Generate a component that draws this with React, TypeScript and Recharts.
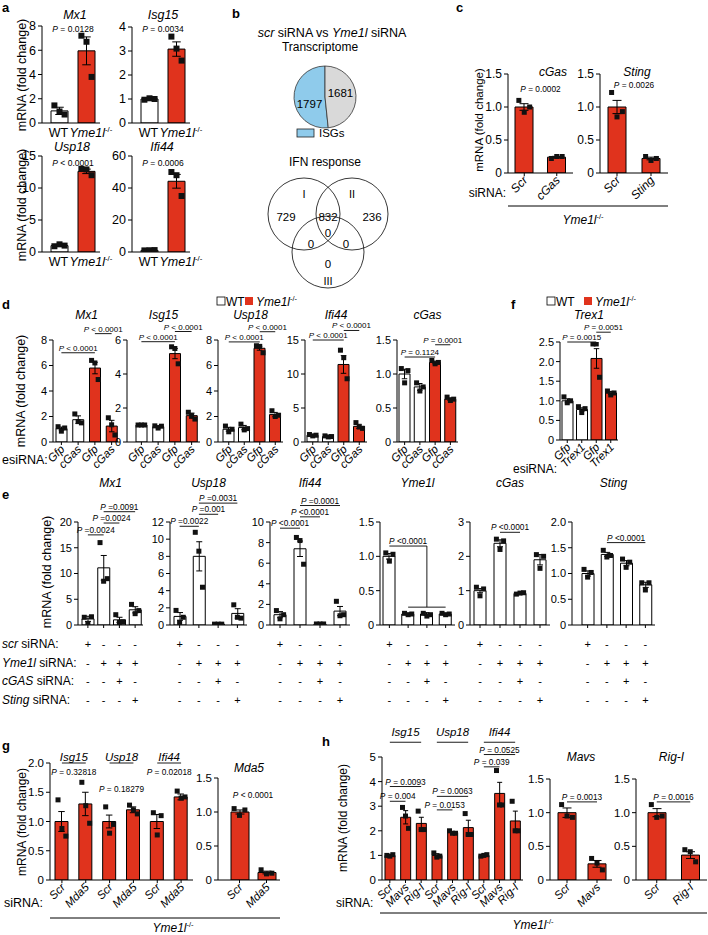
import React from 'react';
import { ComposedChart, Bar, Scatter, XAxis, YAxis, ErrorBar, ReferenceLine, Cell, PieChart, Pie } from 'recharts';

const FONT = '"Liberation Sans", Arial, Helvetica, sans-serif';
const RED = '#e0331d';
const WHT = '#ffffff';

type Br = { i: number; j: number; y: number; y2?: number; t?: string; line?: boolean; title?: boolean; dy?: number };

// ---------------- panel a ----------------
const aLabels = ['WT', 'Yme1l'];
const aFills = [WHT, RED];
const aMx1Mean = [1.0, 5.95];
const aMx1Sem = [0.3, 1.15];
const aMx1Reps = [[1.45, 0.95, 0.7], [7.2, 6.7, 3.8]];
const aIsg15Mean = [1.0, 3.08];
const aIsg15Sem = [0.02, 0.3];
const aIsg15Reps = [[0.97, 1.03, 1.0], [3.6, 3.1, 2.6]];
const aUsp18Mean = [1.0, 12.6];
const aUsp18Sem = [0.12, 0.35];
const aUsp18Reps = [[0.9, 1.2, 1.0], [13.0, 12.9, 12.0]];
const aIfi44Mean = [1.0, 44.2];
const aIfi44Sem = [0.15, 4.3];
const aIfi44Reps = [[1.0, 1.1, 1.2], [50, 48, 35]];
const aGenes = ['Mx1', 'Isg15', 'Usp18', 'Ifi44'];
const aMx1P: Br[] = [{ i: 0, j: 1, y: 7.35, t: 'P = 0.0128' }];
const aIsg15P: Br[] = [{ i: 0, j: 1, y: 3.7, t: 'P = 0.0034' }];
const aUsp18P: Br[] = [{ i: 0, j: 1, y: 13.1, t: 'P < 0.0001' }];
const aIfi44P: Br[] = [{ i: 0, j: 1, y: 52.5, t: 'P = 0.0006' }];

// ---------------- panel b ----------------
const pieData = [{ name: 'ISGs', value: 1797 }, { name: 'other', value: 1681 }];
const pieColors = ['#8fcbeb', '#d9d9d9'];
const vennSets = ['I', 'II', 'III'];
const vennCounts = ['729', '832', '236', '0', '0', '0', '0'];

// ---------------- panel c ----------------
const cGasLabels = ['Scr', 'cGas'];
const cStingLabels = ['Scr', 'Sting'];
const cFills = [RED, RED];
const cGasMean = [1.0, 0.24];
const cGasSem = [0.05, 0.012];
const cGasReps = [[1.1, 0.92, 1.0], [0.22, 0.25, 0.25]];
const cStingMean = [1.0, 0.22];
const cStingSem = [0.1, 0.02];
const cStingReps = [[1.22, 0.85, 0.93], [0.25, 0.19, 0.22]];
const cGasP: Br[] = [{ i: 0, j: 1, y: 1.2, t: 'P = 0.0002' }];
const cStingP: Br[] = [{ i: 0, j: 1, y: 1.26, t: 'P = 0.0026' }];

// ---------------- panel d ----------------
const dLabels = ['Gfp', 'cGas', 'Gfp', 'cGas'];
const dFills = [WHT, WHT, RED, RED];
const dGenes = ['Mx1', 'Isg15', 'Usp18', 'Ifi44', 'cGas'];
const dMx1Mean = [1.05, 1.75, 5.8, 1.25];
const dMx1Sem = [0.12, 0.3, 0.45, 0.45];
const dMx1Reps = [[1.2, 0.85, 1.1], [2.2, 1.6, 1.5], [6.4, 6.2, 4.9], [1.9, 1.35, 0.55]];
const dIsg15Mean = [1.0, 0.9, 5.2, 1.55];
const dIsg15Sem = [0.02, 0.06, 0.3, 0.15];
const dIsg15Reps = [[1.0, 1.0, 1.0], [0.95, 0.82, 0.93], [5.6, 5.5, 4.6], [1.75, 1.55, 1.35]];
const dUsp18Mean = [1.0, 1.13, 7.35, 2.15];
const dUsp18Sem = [0.15, 0.17, 0.15, 0.17];
const dUsp18Reps = [[1.25, 0.8, 1.0], [1.4, 0.95, 1.05], [7.55, 7.5, 7.0], [2.45, 2.0, 2.1]];
const dIfi44Mean = [1.0, 0.8, 11.4, 2.3];
const dIfi44Sem = [0.1, 0.08, 1.3, 0.3];
const dIfi44Reps = [[1.1, 0.9, 1.0], [0.9, 0.75, 0.8], [13.5, 12.4, 9.3], [2.85, 2.2, 2.0]];
const dCgasMean = [1.0, 0.81, 1.17, 0.63];
const dCgasSem = [0.07, 0.05, 0.02, 0.02];
const dCgasReps = [[1.08, 0.87, 1.05], [0.87, 0.75, 0.81], [1.2, 1.15, 1.17], [0.66, 0.61, 0.63]];
const dMx1P: Br[] = [{ i: 0, j: 2, y: 7.0, t: 'P < 0.0001', line: true }, { i: 2, j: 3, y: 8.5, t: 'P < 0.0001', line: true }];
const dIsg15P: Br[] = [{ i: 0, j: 2, y: 5.9, t: 'P < 0.0001', line: true }, { i: 2, j: 3, y: 6.5, t: 'P < 0.0001', line: true }];
const dUsp18P: Br[] = [{ i: 0, j: 2, y: 7.85, t: 'P < 0.0001', line: true }, { i: 2, j: 3, y: 8.65, t: 'P < 0.0001', line: true }];
const dIfi44P: Br[] = [{ i: 0, j: 2, y: 15.0, t: 'P < 0.0001', line: true }, { i: 2, j: 3, y: 16.4, t: 'P < 0.0001', line: true }];
const dCgasP: Br[] = [{ i: 0, j: 2, y: 1.25, t: 'P = 0.1124', line: true }, { i: 2, j: 3, y: 1.43, t: 'P = 0.0001', line: true }];

// ---------------- panel f ----------------
const fLabels = ['Gfp', 'Trex1', 'Gfp', 'Trex1'];
const fFills = [WHT, WHT, RED, RED];
const fMean = [1.0, 0.78, 2.08, 1.2];
const fSem = [0.05, 0.04, 0.25, 0.04];
const fReps = [[1.1, 0.95, 1.0], [0.85, 0.7, 0.8], [2.45, 2.45, 1.6], [1.25, 1.15, 1.2]];
const fP: Br[] = [{ i: 0, j: 2, y: 2.5, t: 'P = 0.0015', line: true }, { i: 2, j: 3, y: 2.75, t: 'P = 0.0051', line: true }];

// ---------------- panel e ----------------
const eLabels = ['1', '2', '3', '4'];
const eFills = [WHT, WHT, WHT, WHT];
const eGenes = ['Mx1', 'Usp18', 'Ifi44', 'Yme1l', 'cGas', 'Sting'];
const eSignRows = [['+', '-', '-', '-'], ['-', '+', '+', '+'], ['-', '-', '+', '-'], ['-', '-', '-', '+']];
const eRowLabels = [['scr', ' siRNA:'], ['Yme1l', ' siRNA:'], ['cGAS', ' siRNA:'], ['Sting', ' siRNA:']];
const eMx1Mean = [1.2, 11.1, 1.0, 2.95];
const eMx1Sem = [0.5, 2.4, 0.5, 0.6];
const eMx1Reps = [[1.5, 0.3, 1.6], [16, 8.5, 9], [2.0, 0.5, 0.6], [4.0, 2.2, 2.8]];
const eUsp18Mean = [1.0, 8.0, 0.1, 1.35];
const eUsp18Sem = [0.45, 1.7, 0.02, 0.55];
const eUsp18Reps = [[1.7, 0.3, 0.9], [10.8, 8.6, 4.4], [0.1, 0.1, 0.1], [2.35, 0.9, 0.8]];
const eIfi44Mean = [1.0, 7.4, 0.1, 1.35];
const eIfi44Sem = [0.3, 0.75, 0.02, 0.45];
const eIfi44Reps = [[1.4, 0.6, 1.0], [8.5, 8.2, 5.9], [0.1, 0.1, 0.1], [2.3, 0.9, 1.0]];
const eYmeMean = [1.0, 0.16, 0.16, 0.16];
const eYmeSem = [0.04, 0.01, 0.02, 0.01];
const eYmeReps = [[1.05, 0.93, 1.03], [0.17, 0.15, 0.16], [0.17, 0.13, 0.15], [0.17, 0.15, 0.16]];
const eCgasMean = [1.0, 2.38, 0.92, 1.9];
const eCgasSem = [0.06, 0.1, 0.02, 0.15];
const eCgasReps = [[1.1, 0.85, 1.05], [2.5, 2.2, 2.45], [0.9, 0.93, 0.94], [2.05, 1.65, 2.0]];
const eStingMean = [1.0, 1.37, 1.2, 0.78];
const eStingSem = [0.05, 0.04, 0.05, 0.05];
const eStingReps = [[1.08, 0.93, 1.02], [1.45, 1.32, 1.35], [1.28, 1.12, 1.22], [0.82, 0.68, 0.82]];
const eMx1P: Br[] = [{ i: 0, j: 1, y: 17.5, t: 'P =0.0024', line: true }, { i: 1, j: 2, y: 19.8, t: 'P =0.0024', line: true }, { i: 1, j: 3, y: 22.0, t: 'P =0.0091', line: true }];
const eUsp18P: Br[] = [{ i: 0, j: 1, y: 11.5, t: 'P =0.0022', line: true }, { i: 1, j: 2, y: 12.9, t: 'P =0.001', line: true }, { i: 1, j: 3, y: 14.2, t: 'P =0.0031', line: true }];
const eIfi44P: Br[] = [{ i: 0, j: 1, y: 9.4, t: 'P <0.0001', line: true }, { i: 1, j: 2, y: 10.5, t: 'P <0.0001', line: true }, { i: 1, j: 3, y: 11.6, t: 'P =0.0001', line: true }];
const eYmeP: Br[] = [{ i: 0, j: 2, y: 1.15, t: 'P <0.0001', line: true }, { i: 2, j: 2, y: 1.15, y2: 0.26, line: true }, { i: 1, j: 3, y: 0.26, line: true }];
const eCgasP: Br[] = [{ i: 1, j: 2, y: 2.7, t: 'P <0.0001', line: true }];
const eStingP: Br[] = [{ i: 1, j: 3, y: 1.6, t: 'P <0.0001', line: true }];

// ---------------- panel g ----------------
const gLabels = ['Scr', 'Mda5', 'Scr', 'Mda5', 'Scr', 'Mda5'];
const gFills = [RED, RED, RED, RED, RED, RED];
const gMean = [1.0, 1.3, 1.0, 1.2, 1.0, 1.42];
const gSem = [0.17, 0.2, 0.11, 0.05, 0.12, 0.05];
const gReps = [[1.37, 0.88, 0.75], [1.67, 1.27, 0.97], [1.25, 0.8, 0.95], [1.28, 1.2, 1.13], [1.15, 0.77, 1.1], [1.52, 1.4, 1.42]];
const gP: Br[] = [
  { i: 0, j: 1, y: 2.0, t: 'Isg15', line: true, title: true },
  { i: 2, j: 3, y: 2.0, t: 'Usp18', line: true, title: true },
  { i: 4, j: 5, y: 2.0, t: 'Ifi44', line: true, title: true },
  { i: 0, j: 1, y: 1.76, t: 'P = 0.32818' },
  { i: 2, j: 3, y: 1.47, t: 'P = 0.18279' },
  { i: 4, j: 5, y: 1.76, t: 'P = 0.02018' },
];
const gMdaLabels = ['Scr', 'Mda5'];
const gMdaMean = [1.0, 0.11];
const gMdaSem = [0.03, 0.02];
const gMdaReps = [[1.05, 0.95, 1.03], [0.15, 0.09, 0.1]];
const gMdaP: Br[] = [{ i: 0, j: 1, y: 1.18, t: 'P < 0.0001' }];

// ---------------- panel h ----------------
const hLabels = ['Scr', 'Mavs', 'Rig-I', 'Scr', 'Mavs', 'Rig-I', 'Scr', 'Mavs', 'Rig-I'];
const hFills = [RED, RED, RED, RED, RED, RED, RED, RED, RED];
const hMean = [1.0, 2.55, 2.3, 1.0, 1.93, 2.13, 1.0, 3.52, 2.4];
const hSem = [0.03, 0.27, 0.25, 0.07, 0.04, 0.3, 0.04, 0.45, 0.4];
const hReps = [[1.0, 0.97, 1.03], [2.95, 2.6, 2.1], [2.8, 2.05, 2.05], [1.1, 0.93, 0.97], [2.0, 1.9, 1.9], [2.7, 1.85, 1.85], [0.97, 1.0, 1.03], [4.45, 3.05, 3.05], [3.2, 2.0, 2.0]];
const hP: Br[] = [
  { i: 0, j: 2, y: 5.6, t: 'Isg15', line: true, title: true, dy: -4 },
  { i: 3, j: 5, y: 5.6, t: 'Usp18', line: true, title: true, dy: -4 },
  { i: 6, j: 8, y: 5.6, t: 'Ifi44', line: true, title: true, dy: -4 },
  { i: 0, j: 2, y: 3.8, t: 'P = 0.0093', line: true },
  { i: 0, j: 1, y: 3.2, t: 'P = 0.004', line: true },
  { i: 3, j: 5, y: 3.4, t: 'P = 0.0063', line: true },
  { i: 3, j: 4, y: 2.85, t: 'P = 0.0153', line: true },
  { i: 6, j: 8, y: 5.1, t: 'P = 0.0525', line: true },
  { i: 6, j: 7, y: 4.6, t: 'P = 0.039', line: true },
];
const hMavsLabels = ['Scr', 'Mavs'];
const hMavsMean = [1.0, 0.24];
const hMavsSem = [0.07, 0.05];
const hMavsReps = [[1.12, 0.95, 0.93], [0.32, 0.25, 0.15]];
const hMavsP: Br[] = [{ i: 0, j: 1, y: 1.16, t: 'P = 0.0013', line: true }];
const hRigLabels = ['Scr', 'Rig-I'];
const hRigMean = [1.0, 0.37];
const hRigSem = [0.06, 0.05];
const hRigReps = [[1.12, 0.93, 0.95], [0.45, 0.42, 0.27]];
const hRigP: Br[] = [{ i: 0, j: 1, y: 1.16, t: 'P = 0.0016', line: true }];

// ---------------- layout (page pixels) ----------------
const G = {
  aMx1: { x: 42, top: 26, bottom: 123, right: 100, pl: 4, bs: 17 },
  aIsg15: { x: 132, top: 27, bottom: 123, right: 190, pl: 4, bs: 17 },
  aUsp18: { x: 42, top: 156, bottom: 252, right: 100, pl: 4, bs: 17 },
  aIfi44: { x: 132, top: 156, bottom: 252, right: 190, pl: 4, bs: 17 },
  cGas: { x: 508, top: 74, bottom: 173, right: 573, pl: 0, bs: 18 },
  cSting: { x: 600, top: 74, bottom: 173, right: 668, pl: 0, bs: 18 },
  dMx1: { x: 53, top: 340, bottom: 442, right: 120, pl: 0, bs: 11 },
  dIsg15: { x: 127, top: 340, bottom: 442, right: 200, pl: 6, bs: 11 },
  dUsp18: { x: 218, top: 340, bottom: 442, right: 283, pl: 3, bs: 11 },
  dIfi44: { x: 305, top: 340, bottom: 442, right: 367, pl: 0, bs: 11 },
  dCgas: { x: 397, top: 340, bottom: 442, right: 458, pl: 0, bs: 11 },
  f: { x: 560, top: 342, bottom: 440, right: 618, pl: 0, bs: 11 },
  eMx1: { x: 78, top: 522, bottom: 625, right: 143, pl: 2, bs: 12 },
  eUsp18: { x: 170, top: 522, bottom: 625, right: 247, pl: 0, bs: 12 },
  eIfi44: { x: 270, top: 522, bottom: 625, right: 350, pl: 0, bs: 12 },
  eYme: { x: 380, top: 522, bottom: 625, right: 455, pl: 0, bs: 12 },
  eCgas: { x: 470, top: 522, bottom: 625, right: 550, pl: 0, bs: 12 },
  eSting: { x: 572, top: 522, bottom: 625, right: 655, pl: 6, bs: 12 },
  gLeft: { x: 50, top: 763, bottom: 880, right: 193, pl: 0, bs: 13 },
  gMda: { x: 218, top: 778, bottom: 880, right: 280, pl: 8, bs: 18 },
  hLeft: { x: 382, top: 757, bottom: 880, right: 523, pl: 0, bs: 10 },
  hMavs: { x: 550, top: 779, bottom: 880, right: 612, pl: 2, bs: 18 },
  hRig: { x: 636, top: 779, bottom: 880, right: 707, pl: 4, bs: 18 },
};

// ---------------- helpers ----------------
function makeTick(kind: string, labels: string[], fs: number) {
  return function TickR(tp: any) {
    const x = Number(tp.x);
    const y = Number(tp.y);
    const idx = Number(String(tp.payload?.value ?? 'c0').slice(1));
    const lab = labels[idx] ?? '';
    if (kind === 'rot') {
      const ax = x + 4;
      const ay = y + 3;
      return (
        <text x={ax} y={ay} textAnchor="end" fontSize={fs} fontStyle="italic" fontFamily={FONT} fill="#000" transform={`rotate(-45 ${ax} ${ay})`}>
          {lab}
        </text>
      );
    }
    if (kind === 'flat') {
      if (lab === 'WT') {
        return <text x={x - 1} y={y + 9} textAnchor="middle" fontSize={fs} fontFamily={FONT} fill="#000">WT</text>;
      }
      return (
        <text x={x - 17} y={y + 9} textAnchor="start" fontSize={fs} fontFamily={FONT} fill="#000">
          <tspan fontStyle="italic">{lab}</tspan>
          <tspan fontSize={fs * 0.62} dy={-fs * 0.42}>-/-</tspan>
        </text>
      );
    }
    return (
      <g>
        {eSignRows.map((row, r) => (
          <text key={r} x={x} y={y + 18 + r * 18.7} textAnchor="middle" fontSize={fs} fontFamily={FONT} fill="#000">{row[idx]}</text>
        ))}
      </g>
    );
  };
}

const sq = (off: number, ds: number) => (sp: any) => {
  const cx = Number(sp.cx);
  const cy = Number(sp.cy);
  if (!isFinite(cx) || !isFinite(cy)) return <g />;
  return <rect x={cx + off - ds / 2} y={cy - ds / 2} width={ds} height={ds} fill="#111" />;
};

const brLabel = (b: Br, fs: number) => (lp: any) => {
  const vb = lp.viewBox ?? {};
  const cx = (vb.x ?? 0) + (vb.width ?? 0) / 2;
  const y = (vb.y ?? 0) - 2 + (b.dy ?? 0);
  const t = b.t ?? '';
  if (b.title) {
    return <text x={cx} y={y} textAnchor="middle" fontSize={fs} fontStyle="italic" fontFamily={FONT} fill="#000">{t}</text>;
  }
  return (
    <text x={cx} y={y} textAnchor="middle" fontSize={fs} fontFamily={FONT} fill="#000">
      <tspan fontStyle="italic">{t.slice(0, 1)}</tspan>
      {t.slice(1)}
    </text>
  );
};

function Panel(p: any) {
  const g = p.g;
  const yw = 36;
  const mt = 48;
  const mr = 18;
  const xh = p.xh ?? 52;
  const w = yw + (g.right - g.x) + mr;
  const h = mt + (g.bottom - g.top) + xh;
  const data = p.labels.map((_: string, i: number) => ({
    k: 'c' + i,
    v: p.mean[i],
    e: p.sem[i],
    r0: p.reps[i][0],
    r1: p.reps[i][1],
    r2: p.reps[i][2],
  }));
  const ds = p.ds ?? 5;
  const spread = [-0.3, 0, 0.3];
  const fmt = (v: number) => (v === 0 ? '0' : v.toFixed(p.dec));
  return (
    <div style={{ position: 'absolute', left: g.x - yw, top: g.top - mt, width: w, height: h }}>
      <ComposedChart width={w} height={h} data={data} margin={{ top: mt, right: mr, bottom: 0, left: 0 }}>
        <XAxis
          dataKey="k"
          type="category"
          interval={0}
          height={xh}
          axisLine={{ stroke: '#000', strokeWidth: 1 }}
          tickLine={p.noXTick ? false : { stroke: '#000', strokeWidth: 1 }}
          tickSize={3}
          padding={{ left: g.pl ?? 0, right: g.pr ?? 0 }}
          tick={makeTick(p.tick, p.labels, p.tfs)}
        />
        <YAxis
          type="number"
          domain={[0, p.yMax]}
          ticks={p.ticks}
          interval={0}
          allowDataOverflow
          width={yw}
          axisLine={{ stroke: '#000', strokeWidth: 1 }}
          tickLine={{ stroke: '#000', strokeWidth: 1 }}
          tickSize={4}
          tick={{ fill: '#000', fontSize: p.fs, fontFamily: FONT }}
          tickFormatter={fmt}
        />
        <Bar dataKey="v" barSize={g.bs} isAnimationActive={false} stroke="#000" strokeWidth={1}>
          {data.map((_: any, i: number) => <Cell key={i} fill={p.fills[i]} />)}
          <ErrorBar dataKey="e" width={Math.max(2, g.bs * 0.25)} stroke="#000" strokeWidth={1} />
        </Bar>
        {spread.map((s, j) => (
          <Scatter key={j} dataKey={'r' + j} isAnimationActive={false} shape={sq(s * g.bs, ds)} />
        ))}
        {(p.br ?? []).map((b: Br, n: number) => (
          <ReferenceLine
            key={n}
            ifOverflow="visible"
            segment={[{ x: 'c' + b.i, y: b.y }, { x: 'c' + b.j, y: b.y2 ?? b.y }]}
            stroke={b.line ? '#000' : 'none'}
            strokeWidth={0.9}
            label={b.t ? brLabel(b, b.title ? p.ttfs ?? 11.5 : p.pfs) : undefined}
          />
        ))}
      </ComposedChart>
    </div>
  );
}

const T = (p: any) => (
  <text
    x={p.x}
    y={p.y}
    fontSize={p.s ?? 11.5}
    fontStyle={p.it ? 'italic' : 'normal'}
    fontWeight={p.b ? 'bold' : 'normal'}
    textAnchor={p.a ?? 'start'}
    fontFamily={FONT}
    fill="#000"
  >
    {p.children}
  </text>
);

const Yme = (p: any) => (
  <text x={p.x} y={p.y} fontSize={p.s} textAnchor={p.a ?? 'middle'} fontFamily={FONT} fill="#000">
    <tspan fontStyle="italic">Yme1l</tspan>
    <tspan fontSize={p.s * 0.62} dy={-p.s * 0.42}>-/-</tspan>
  </text>
);

const YLab = (p: any) => (
  <text
    x={p.x}
    y={p.y}
    fontSize={p.s}
    textAnchor="middle"
    dominantBaseline="central"
    fontFamily={FONT}
    fill="#000"
    transform={`rotate(-90 ${p.x} ${p.y})`}
  >
    mRNA (fold change)
  </text>
);

const pieLabel = (lp: any) => {
  const RAD = Math.PI / 180;
  const r = lp.outerRadius * 0.5;
  const dyArr = [6, -3];
  const x = lp.cx + r * Math.cos(-lp.midAngle * RAD);
  const y = lp.cy + r * Math.sin(-lp.midAngle * RAD) + dyArr[lp.index];
  return (
    <text x={x} y={y} textAnchor="middle" dominantBaseline="central" fontSize={11.5} fontFamily={FONT} fill="#000">
      {lp.value}
    </text>
  );
};

const center = (g: any) => (g.x + g.right) / 2;

export default function App() {
  const dP = { dec: 0, pfs: 8, fs: 11, tfs: 11.5, ttfs: 12 };
  const eP = { pfs: 8.3, fs: 11, tfs: 11, tick: 'signs', xh: 90 };
  const ghP = { pfs: 8.3, fs: 11.5, tfs: 11.5, ttfs: 11.5, tick: 'rot' };
  return (
    <div style={{ position: 'absolute', left: 0, top: 0, width: 708, height: 935, background: '#fff', fontFamily: FONT, overflow: 'hidden' }}>
      {/* a */}
      <Panel g={G.aMx1} labels={aLabels} fills={aFills} mean={aMx1Mean} sem={aMx1Sem} reps={aMx1Reps} yMax={8} ticks={[0, 2, 4, 6, 8]} dec={0} fs={12.5} tfs={12.5} pfs={8.5} tick="flat" noXTick ds={6} br={aMx1P} />
      <Panel g={G.aIsg15} labels={aLabels} fills={aFills} mean={aIsg15Mean} sem={aIsg15Sem} reps={aIsg15Reps} yMax={4} ticks={[0, 1, 2, 3, 4]} dec={0} fs={12.5} tfs={12.5} pfs={8.5} tick="flat" noXTick ds={6} br={aIsg15P} />
      <Panel g={G.aUsp18} labels={aLabels} fills={aFills} mean={aUsp18Mean} sem={aUsp18Sem} reps={aUsp18Reps} yMax={15} ticks={[0, 5, 10, 15]} dec={0} fs={12.5} tfs={12.5} pfs={8.5} tick="flat" noXTick ds={6} br={aUsp18P} />
      <Panel g={G.aIfi44} labels={aLabels} fills={aFills} mean={aIfi44Mean} sem={aIfi44Sem} reps={aIfi44Reps} yMax={60} ticks={[0, 20, 40, 60]} dec={0} fs={12.5} tfs={12.5} pfs={8.5} tick="flat" noXTick ds={6} br={aIfi44P} />

      {/* b pie */}
      <div style={{ position: 'absolute', left: 320 - 40, top: 92 - 40, width: 80, height: 80 }}>
        <PieChart width={80} height={80}>
          <Pie data={pieData} dataKey="value" cx={40} cy={40} outerRadius={31} startAngle={90} endAngle={450} stroke="#333" strokeWidth={0.8} isAnimationActive={false} labelLine={false} label={pieLabel}>
            {pieData.map((_, i) => <Cell key={i} fill={pieColors[i]} />)}
          </Pie>
        </PieChart>
      </div>

      {/* c */}
      <Panel g={G.cGas} labels={cGasLabels} fills={cFills} mean={cGasMean} sem={cGasSem} reps={cGasReps} yMax={1.5} ticks={[0, 0.5, 1, 1.5]} dec={1} fs={12} tfs={12} pfs={8.3} tick="rot" br={cGasP} />
      <Panel g={G.cSting} labels={cStingLabels} fills={cFills} mean={cStingMean} sem={cStingSem} reps={cStingReps} yMax={1.5} ticks={[0, 0.5, 1, 1.5]} dec={1} fs={12} tfs={12} pfs={8.3} tick="rot" br={cStingP} />

      {/* d */}
      <Panel g={G.dMx1} labels={dLabels} fills={dFills} mean={dMx1Mean} sem={dMx1Sem} reps={dMx1Reps} yMax={8} ticks={[0, 2, 4, 6, 8]} {...dP} tick="rot" br={dMx1P} />
      <Panel g={G.dIsg15} labels={dLabels} fills={dFills} mean={dIsg15Mean} sem={dIsg15Sem} reps={dIsg15Reps} yMax={6} ticks={[0, 2, 4, 6]} {...dP} tick="rot" br={dIsg15P} />
      <Panel g={G.dUsp18} labels={dLabels} fills={dFills} mean={dUsp18Mean} sem={dUsp18Sem} reps={dUsp18Reps} yMax={8} ticks={[0, 2, 4, 6, 8]} {...dP} tick="rot" br={dUsp18P} />
      <Panel g={G.dIfi44} labels={dLabels} fills={dFills} mean={dIfi44Mean} sem={dIfi44Sem} reps={dIfi44Reps} yMax={15} ticks={[0, 5, 10, 15]} {...dP} tick="rot" br={dIfi44P} />
      <Panel g={G.dCgas} labels={dLabels} fills={dFills} mean={dCgasMean} sem={dCgasSem} reps={dCgasReps} yMax={1.5} ticks={[0, 0.5, 1, 1.5]} {...dP} dec={1} tick="rot" br={dCgasP} />

      {/* f */}
      <Panel g={G.f} labels={fLabels} fills={fFills} mean={fMean} sem={fSem} reps={fReps} yMax={2.5} ticks={[0, 0.5, 1, 1.5, 2, 2.5]} {...dP} dec={1} tick="rot" br={fP} />

      {/* e */}
      <Panel g={G.eMx1} labels={eLabels} fills={eFills} mean={eMx1Mean} sem={eMx1Sem} reps={eMx1Reps} yMax={20} ticks={[0, 5, 10, 15, 20]} dec={0} {...eP} br={eMx1P} />
      <Panel g={G.eUsp18} labels={eLabels} fills={eFills} mean={eUsp18Mean} sem={eUsp18Sem} reps={eUsp18Reps} yMax={12} ticks={[0, 2, 4, 6, 8, 10, 12]} dec={0} {...eP} br={eUsp18P} />
      <Panel g={G.eIfi44} labels={eLabels} fills={eFills} mean={eIfi44Mean} sem={eIfi44Sem} reps={eIfi44Reps} yMax={10} ticks={[0, 2, 4, 6, 8, 10]} dec={0} {...eP} br={eIfi44P} />
      <Panel g={G.eYme} labels={eLabels} fills={eFills} mean={eYmeMean} sem={eYmeSem} reps={eYmeReps} yMax={1.5} ticks={[0, 0.5, 1, 1.5]} dec={1} {...eP} br={eYmeP} />
      <Panel g={G.eCgas} labels={eLabels} fills={eFills} mean={eCgasMean} sem={eCgasSem} reps={eCgasReps} yMax={3} ticks={[0, 1, 2, 3]} dec={0} {...eP} br={eCgasP} />
      <Panel g={G.eSting} labels={eLabels} fills={eFills} mean={eStingMean} sem={eStingSem} reps={eStingReps} yMax={2} ticks={[0, 0.5, 1, 1.5, 2]} dec={1} {...eP} br={eStingP} />

      {/* g */}
      <Panel g={G.gLeft} labels={gLabels} fills={gFills} mean={gMean} sem={gSem} reps={gReps} yMax={2} ticks={[0, 0.5, 1, 1.5, 2]} dec={1} {...ghP} br={gP} />
      <Panel g={G.gMda} labels={gMdaLabels} fills={cFills} mean={gMdaMean} sem={gMdaSem} reps={gMdaReps} yMax={1.5} ticks={[0, 0.5, 1, 1.5]} dec={1} {...ghP} br={gMdaP} />

      {/* h */}
      <Panel g={G.hLeft} labels={hLabels} fills={hFills} mean={hMean} sem={hSem} reps={hReps} yMax={5} ticks={[0, 1, 2, 3, 4, 5]} dec={0} {...ghP} br={hP} />
      <Panel g={G.hMavs} labels={hMavsLabels} fills={cFills} mean={hMavsMean} sem={hMavsSem} reps={hMavsReps} yMax={1.5} ticks={[0, 0.5, 1, 1.5]} dec={1} {...ghP} br={hMavsP} />
      <Panel g={G.hRig} labels={hRigLabels} fills={cFills} mean={hRigMean} sem={hRigSem} reps={hRigReps} yMax={1.5} ticks={[0, 0.5, 1, 1.5]} dec={1} {...ghP} br={hRigP} />

      {/* overlay text */}
      <svg style={{ position: 'absolute', left: 0, top: 0, pointerEvents: 'none' }} width={708} height={935}>
        {/* panel letters */}
        <T x={2} y={12} s={13} b>a</T>
        <T x={232} y={18} s={13} b>b</T>
        <T x={456} y={12} s={13} b>c</T>
        <T x={2} y={309} s={13} b>d</T>
        <T x={2} y={499} s={13} b>e</T>
        <T x={511} y={309} s={13} b>f</T>
        <T x={2} y={750} s={13} b>g</T>
        <T x={322} y={746} s={13} b>h</T>

        {/* a */}
        <T x={75} y={19} s={12.5} it a="middle">{aGenes[0]}</T>
        <T x={163} y={19} s={12.5} it a="middle">{aGenes[1]}</T>
        <T x={72} y={151} s={12.5} it a="middle">{aGenes[2]}</T>
        <T x={162} y={151} s={12.5} it a="middle">{aGenes[3]}</T>
        <YLab x={22} y={75} s={12.5} />
        <YLab x={22} y={205} s={12.5} />

        {/* b */}
        <text x={332} y={37} fontSize={12.5} textAnchor="middle" fontFamily={FONT}>
          <tspan fontStyle="italic">scr</tspan> siRNA vs <tspan fontStyle="italic">Yme1l</tspan> siRNA
        </text>
        <T x={320} y={51} s={12} a="middle">Transcriptome</T>
        <rect x={297} y={129} width={17} height={8} fill={pieColors[0]} stroke="#222" strokeWidth={0.8} />
        <T x={319} y={137} s={11.5}>{pieData[0].name}</T>
        <T x={325} y={166} s={12} a="middle">IFN response</T>
        <circle cx={304} cy={214} r={36} fill="none" stroke="#222" strokeWidth={0.9} />
        <circle cx={352} cy={214} r={36} fill="none" stroke="#222" strokeWidth={0.9} />
        <circle cx={328} cy={252} r={36} fill="none" stroke="#222" strokeWidth={0.9} />
        <T x={304} y={198} s={11} a="middle">{vennSets[0]}</T>
        <T x={352} y={198} s={11} a="middle">{vennSets[1]}</T>
        <T x={328} y={285} s={11} a="middle">{vennSets[2]}</T>
        <T x={286} y={221} s={11.5} a="middle">{vennCounts[0]}</T>
        <T x={328} y={221} s={11.5} a="middle">{vennCounts[1]}</T>
        <T x={372} y={221} s={11.5} a="middle">{vennCounts[2]}</T>
        <T x={328} y={237} s={11.5} a="middle">{vennCounts[3]}</T>
        <T x={311} y={248} s={11.5} a="middle">{vennCounts[4]}</T>
        <T x={346} y={248} s={11.5} a="middle">{vennCounts[5]}</T>
        <T x={328} y={268} s={11.5} a="middle">{vennCounts[6]}</T>

        {/* c */}
        <T x={553} y={76} s={12} it a="middle">cGas</T>
        <T x={637} y={76} s={12} it a="middle">Sting</T>
        <YLab x={479} y={120} s={11.5} />
        <T x={506} y={197} s={12} a="end">siRNA:</T>
        <line x1={508} y1={206} x2={668} y2={206} stroke="#000" strokeWidth={1} />
        <Yme x={583} y={224} s={12} />

        {/* d legend + titles */}
        <rect x={217} y={297} width={8} height={8} fill="#fff" stroke="#000" strokeWidth={0.8} />
        <T x={226} y={306} s={12}>WT</T>
        <rect x={245} y={297} width={8} height={8} fill={RED} />
        <Yme x={256} y={306} s={12} a="start" />
        {dGenes.map((gname, i) => {
          const gg = [G.dMx1, G.dIsg15, G.dUsp18, G.dIfi44, G.dCgas][i];
          return <T key={gname} x={center(gg)} y={319} s={12} it a="middle">{gname}</T>;
        })}
        <T x={2} y={464} s={12.5}>esiRNA:</T>
        <YLab x={21} y={391} s={12.5} />

        {/* f */}
        <rect x={547} y={297} width={8} height={8} fill="#fff" stroke="#000" strokeWidth={0.8} />
        <T x={556} y={306} s={12}>WT</T>
        <rect x={584} y={297} width={8} height={8} fill={RED} />
        <Yme x={595} y={306} s={12} a="start" />
        <T x={center(G.f)} y={319} s={12} it a="middle">Trex1</T>
        <T x={557} y={473} s={12} a="end">esiRNA:</T>

        {/* e */}
        {eGenes.map((gname, i) => {
          const gg = [G.eMx1, G.eUsp18, G.eIfi44, G.eYme, G.eCgas, G.eSting][i];
          return <T key={gname} x={center(gg)} y={487} s={12} it a="middle">{gname}</T>;
        })}
        <YLab x={47} y={572} s={12.5} />
        {eRowLabels.map((rl, r) => (
          <text key={r} x={2} y={648 + r * 18.7} fontSize={12} fontFamily={FONT} fill="#000">
            <tspan fontStyle="italic">{rl[0]}</tspan>
            {rl[1]}
          </text>
        ))}

        {/* g */}
        <YLab x={22} y={822} s={12} />
        <T x={center(G.gMda)} y={772} s={12} it a="middle">Mda5</T>
        <T x={4} y={907} s={12.5}>siRNA:</T>
        <line x1={50} y1={918} x2={280} y2={918} stroke="#000" strokeWidth={1} />
        <Yme x={173} y={932} s={12} />

        {/* h */}
        <YLab x={343} y={818} s={12} />
        <T x={center(G.hMavs)} y={761} s={12} it a="middle">Mavs</T>
        <T x={center(G.hRig)} y={761} s={12} it a="middle">Rig-I</T>
        <T x={336} y={907} s={12}>siRNA:</T>
        <line x1={380} y1={913} x2={707} y2={913} stroke="#000" strokeWidth={1} />
        <Yme x={533} y={929} s={12} />
      </svg>
    </div>
  );
}
